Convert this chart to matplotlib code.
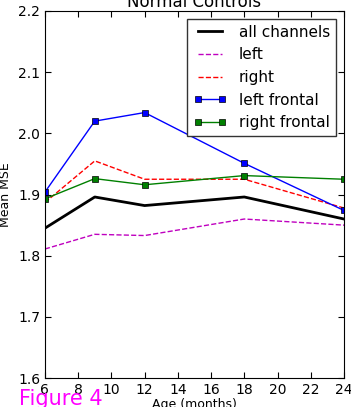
import matplotlib
matplotlib.use('Agg')
import matplotlib.pyplot as plt

# Mean MSE by age
ages = [6, 9, 12, 18, 24]
all_channels = [1.845, 1.896, 1.882, 1.896, 1.860]
left = [1.811, 1.835, 1.833, 1.860, 1.850]
right = [1.887, 1.955, 1.925, 1.925, 1.878]
left_frontal = [1.904, 2.020, 2.034, 1.951, 1.874]
right_frontal = [1.893, 1.926, 1.916, 1.931, 1.925]

plt.rcParams['xtick.direction'] = 'in'
plt.rcParams['ytick.direction'] = 'in'
plt.rcParams['xtick.top'] = True
plt.rcParams['ytick.right'] = True
plt.rcParams['legend.numpoints'] = 2

fig = plt.figure(figsize=(3.51, 4.07), dpi=100)
ax = fig.add_axes([0.128, 0.071, 0.852, 0.902])

ax.plot(ages, all_channels, color='black', lw=2, label='all channels')
ax.plot(ages, left, color='m', ls='--', lw=1, label='left')
ax.plot(ages, right, color='r', ls='--', lw=1, label='right')
ax.plot(ages, left_frontal, color='b', marker='s', ms=5, mec='black', mew=0.5,
        lw=1, label='left frontal')
ax.plot(ages, right_frontal, color='g', marker='s', ms=5, mec='black', mew=0.5,
        lw=1, label='right frontal')

ax.set_xlim(6, 24)
ax.set_ylim(1.6, 2.2)
ax.set_xticks(range(6, 25, 2))
ax.set_yticks([1.6, 1.7, 1.8, 1.9, 2.0, 2.1, 2.2])
ax.tick_params(labelsize=10, length=4)
ax.set_xlabel('Age (months)', fontsize=9, labelpad=1)
ax.set_ylabel('Mean MSE', fontsize=9)
ax.set_title('Normal Controls', fontsize=12, pad=2)
ax.legend(loc='upper right', fontsize=11, fancybox=False, edgecolor='0.2',
          framealpha=1, handlelength=2.2, borderaxespad=0.5, labelspacing=0.5,
          borderpad=0.4)

fig.text(0.055, 0.005, 'Figure 4', color='magenta', fontsize=15)

fig.savefig('out.png', dpi=100)
